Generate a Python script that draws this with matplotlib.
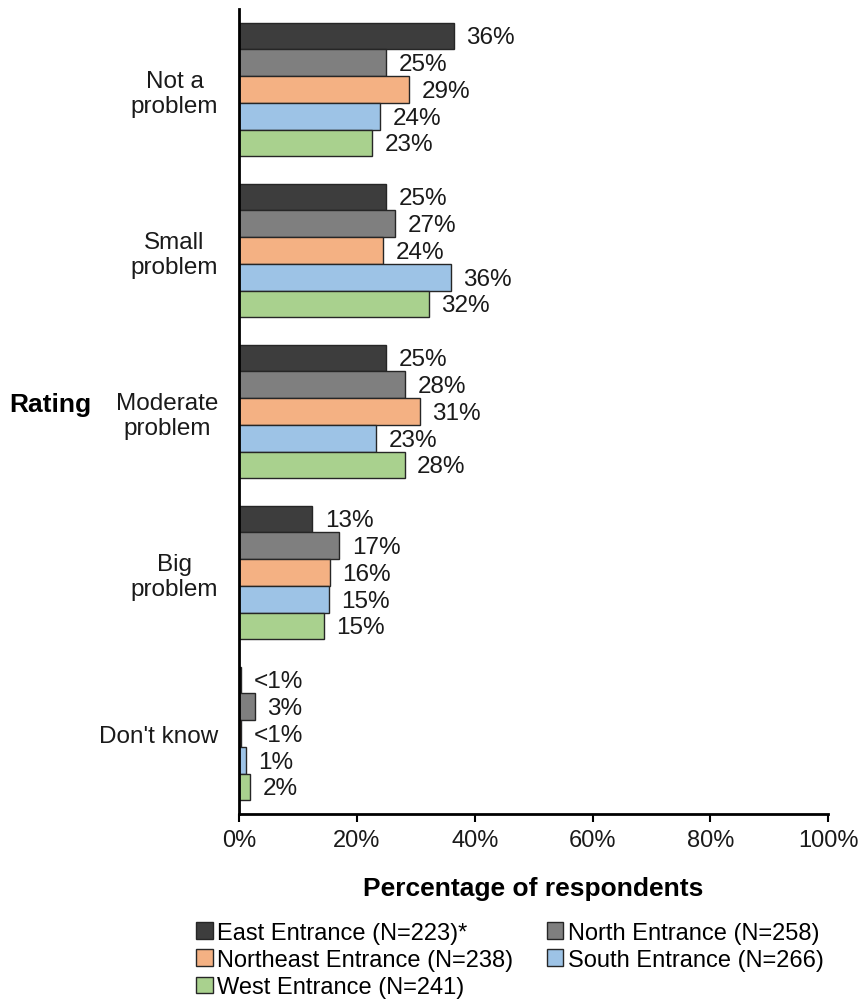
import numpy as np
import matplotlib.pyplot as plt
from matplotlib.ticker import FuncFormatter

plt.rcParams['font.family'] = ['Liberation Sans', 'DejaVu Sans']

# Data
categories = ['Not a\nproblem', 'Small\nproblem', 'Moderate\nproblem', 'Big\nproblem', "Don't know"]
series = ['East Entrance (N=223)*', 'North Entrance (N=258)', 'Northeast Entrance (N=238)',
          'South Entrance (N=266)', 'West Entrance (N=241)']
east = [36.4, 24.9, 24.9, 12.4, 0.3]
north = [24.9, 26.5, 28.2, 17.0, 2.7]
northeast = [28.9, 24.4, 30.7, 15.4, 0.3]
south = [23.9, 35.9, 23.2, 15.2, 1.1]
west = [22.6, 32.2, 28.1, 14.4, 1.9]
labels = [
    ['36%', '25%', '25%', '13%', '<1%'],
    ['25%', '27%', '28%', '17%', '3%'],
    ['29%', '24%', '31%', '16%', '<1%'],
    ['24%', '36%', '23%', '15%', '1%'],
    ['23%', '32%', '28%', '15%', '2%'],
]
colors = ['#3d3d3d', '#7f7f7f', '#f4b183', '#9dc3e6', '#a9d18e']

values = [east, north, northeast, south, west]

fig = plt.figure(figsize=(8.6, 10.03), dpi=100)
ax = fig.add_axes([0.278, 0.1874, 0.685, 0.8026])

y = np.arange(len(categories))
h = 0.166
bars_by_series = []
for i, (vals, col, name) in enumerate(zip(values, colors, series)):
    bars = ax.barh(y + (i - 2) * h, vals, height=h, color=col, edgecolor='#262626',
                   linewidth=1.0, label=name)
    bars_by_series.append(bars)
    for b, lab in zip(bars, labels[i]):
        ax.annotate(lab, xy=(b.get_width(), b.get_y() + b.get_height() / 2),
                    xytext=(9, -1), textcoords='offset points',
                    ha='left', va='center', fontsize=17.5, color='#1a1a1a')

ax.set_xlim(0, 100)
ax.set_ylim(-0.5, 4.5)
ax.invert_yaxis()
ax.set_xticks(np.arange(0, 101, 20))
ax.xaxis.set_major_formatter(FuncFormatter(lambda v, p: f'{int(v)}%'))
ax.set_yticks(y)
ax.set_yticklabels(categories, multialignment='center', fontsize=17.5, color='#1a1a1a')
ax.tick_params(axis='y', length=0, pad=15)
ax.tick_params(axis='x', length=6, width=1.5, direction='out', labelsize=17,
               labelcolor='#1a1a1a', pad=5)
for s in ['top', 'right']:
    ax.spines[s].set_visible(False)
for s in ['left', 'bottom']:
    ax.spines[s].set_linewidth(2)
    ax.spines[s].set_color('black')

ax.set_xlabel('Percentage of respondents', fontsize=19, fontweight='bold', labelpad=18)
fig.text(0.058, 0.596, 'Rating', fontsize=19, fontweight='bold', ha='center', va='center')

order = [0, 2, 4, 1, 3]
handles = [bars_by_series[k] for k in order]
names = [series[k] for k in order]
fig.legend(handles, names, loc='upper left', bbox_to_anchor=(0.228, 0.080), ncol=2,
           frameon=False, fontsize=17, handlelength=0.7, handleheight=0.7,
           handletextpad=0.2, columnspacing=1.4, labelspacing=0.22, borderaxespad=0,
           borderpad=0)

fig.savefig('out.png', dpi=100)
